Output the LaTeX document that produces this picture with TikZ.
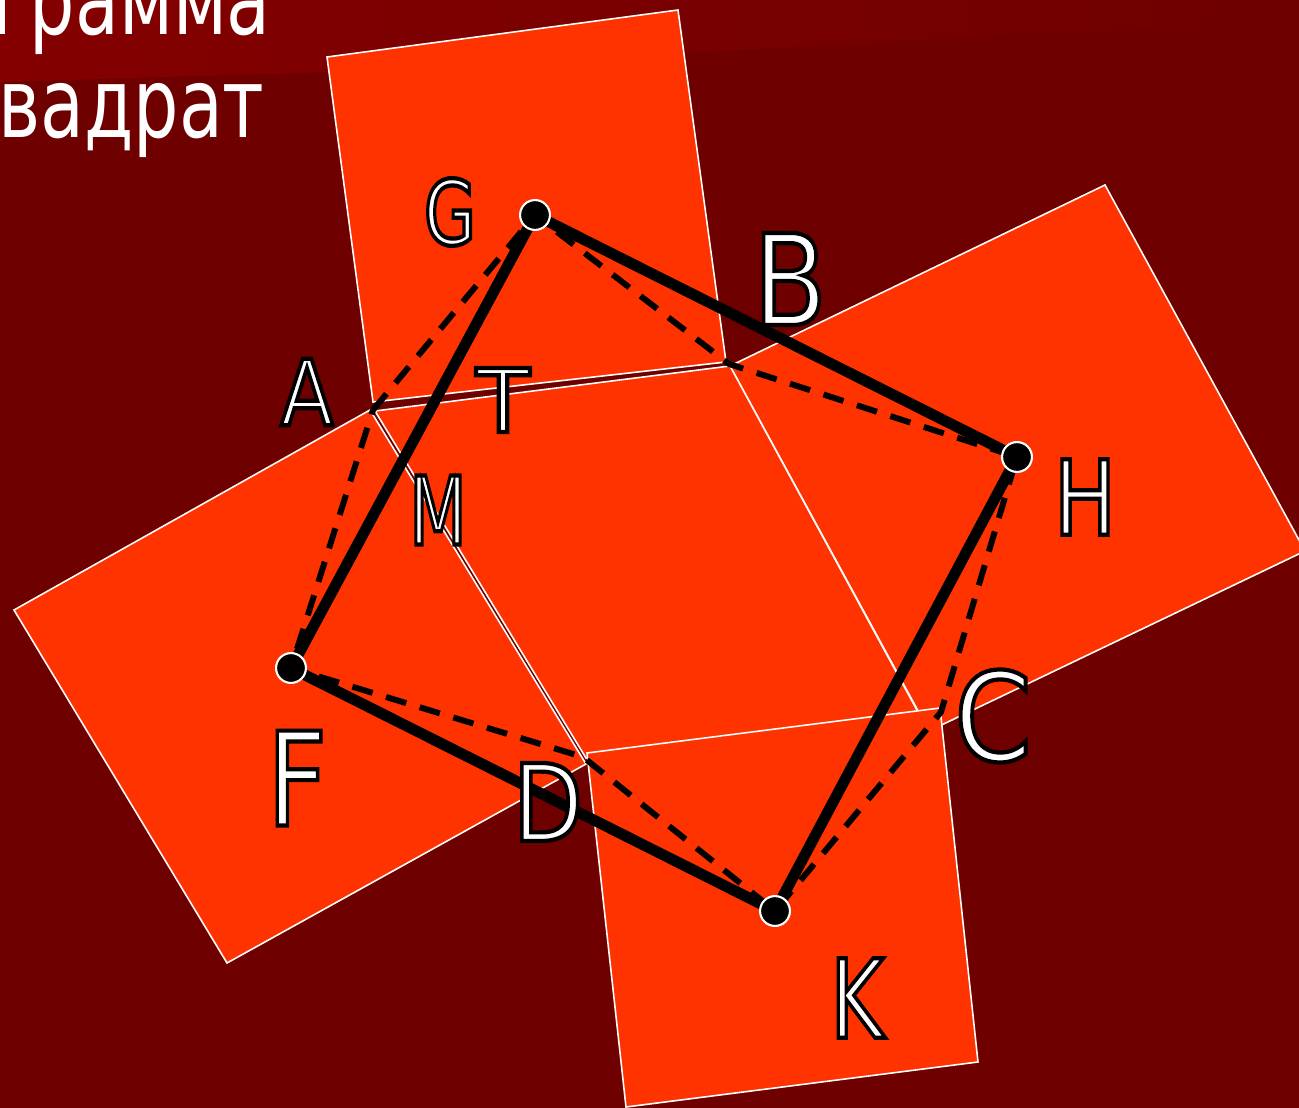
\documentclass[tikz,border=0pt]{standalone}
\usepackage{fontspec}
\setmainfont{DejaVu Sans}
\usetikzlibrary{positioning}
\definecolor{bgred}{HTML}{6E0000}
\definecolor{bandred}{HTML}{840000}
\definecolor{sqorange}{HTML}{FF3300}
\newcommand{\ltr}[3]{\scalebox{#1}[1]{\fontsize{#2}{#2}\selectfont\special{pdf:literal direct 2 Tr 2.4 w 0 0 0 RG}#3\special{pdf:literal direct 0 Tr}}}
\newcommand{\ttl}[1]{\scalebox{0.74}[1]{\fontsize{55}{55}\selectfont #1}}
\tikzset{
  sq/.style={fill=sqorange, draw=white, line width=0.9pt},
  dashline/.style={black, line width=3.4pt, dash pattern=on 12pt off 8pt},
  solidline/.style={black, line width=6.2pt, line cap=round},
  dot/.style={circle, fill=black, draw=white, line width=1.2pt, minimum size=17pt, inner sep=0pt},
  lbl/.style={inner sep=0pt, text=white}
}

\begin{document}
\begin{tikzpicture}[x=0.02cm, y=-0.02cm]
  \useasboundingbox (0,0) rectangle (1299,1108);
  \fill[bgred] (0,0) rectangle (1299,1108);
  \shade[left color=bandred, right color=bgred] (0,0) -- (1299,0) -- (1299,20) -- (330,72) -- (0,82) -- cycle;

  \node[lbl, anchor=base west] (title1) at (-8,35) {\ttl{грамма}};
  \node[lbl, anchor=base west] (title2) at (-2,138) {\ttl{вадрат}};

  % squares on the sides
  \draw[sq] (14,610) -- (370,410) -- (586,764) -- (227,963) -- cycle;
  \draw[sq] (327,57) -- (678,10) -- (726,362) -- (373,402) -- cycle;
  \draw[sq] (730,366) -- (1105,185) -- (1305,551) -- (929,731) -- cycle;
  \draw[sq] (375,411) -- (730,366) -- (918,712) -- (586,758) -- cycle;
  \draw[sq] (587,753) -- (940,708) -- (978,1062) -- (626,1107) -- cycle;

  \coordinate (A) at (373,410);
  \coordinate (B) at (729,364);
  \coordinate (C) at (941,712);
  \coordinate (D) at (583,757);
  \coordinate (pG) at (535,215);
  \coordinate (pH) at (1017,457);
  \coordinate (pK) at (775,911);
  \coordinate (pF) at (291,668);

  \draw[dashline] (A) -- (pG) -- (B) -- (pH) -- (C) -- (pK) -- (D) -- (pF) -- (A);
  \draw[solidline] (pG) -- (pH) -- (pK) -- (pF) -- cycle;

  \node[dot] (G) at (pG) {};
  \node[dot] (H) at (pH) {};
  \node[dot] (K) at (pK) {};
  \node[dot] (F) at (pF) {};

  \node[lbl] (lG) at (450,212) {\ltr{0.75}{51}{G}};
  \node[lbl] (lB) at (790,279) {\ltr{0.85}{72}{B}};
  \node[lbl] (lA) at (307,392) {\ltr{0.85}{52}{A}};
  \node[lbl] (lT) at (503,400) {\ltr{1.0}{50}{T}};
  \node[lbl] (lM) at (438,510) {\ltr{0.7}{54}{M}};
  \node[lbl] (lH) at (1085,497) {\ltr{0.8}{59}{H}};
  \node[lbl] (lC) at (993,716) {\ltr{0.9}{70}{C}};
  \node[lbl] (lF) at (297,778) {\ltr{0.8}{74}{F}};
  \node[lbl] (lD) at (548,802) {\ltr{0.85}{61}{D}};
  \node[lbl] (lK) at (857,998) {\ltr{0.75}{62}{K}};
\end{tikzpicture}
\end{document}
